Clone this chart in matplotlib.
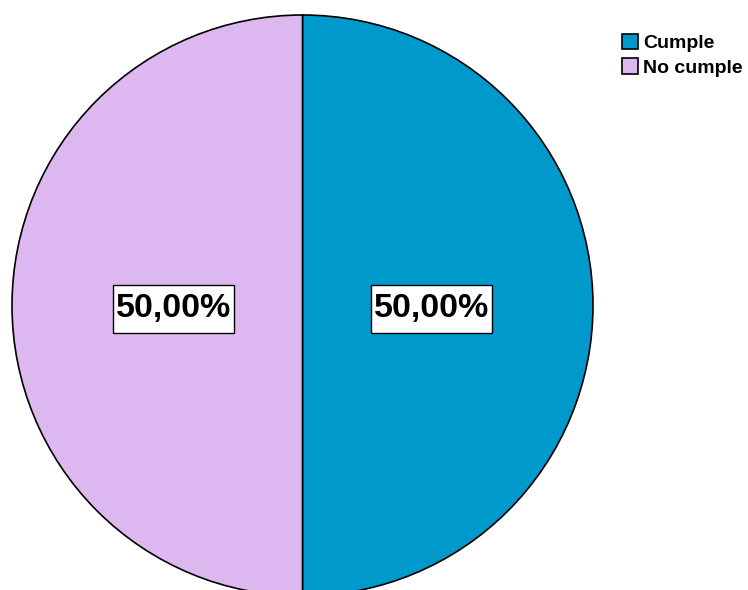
import matplotlib.pyplot as plt
from matplotlib.path import Path

categories = ["Cumple", "No cumple"]
values = [50.0, 50.0]
colors = ["#0099CC", "#DDB8F0"]

plt.rcParams["font.family"] = ["Liberation Sans", "DejaVu Sans"]


def label_box(x0, y0, width, height, mutation_size):
    # rectangular frame, tight at the sides and roomier above/below
    px, py = 0.09 * mutation_size, 0.26 * mutation_size
    x0, y0 = x0 - px, y0 - py
    x1, y1 = x0 + width + 2 * px, y0 + height + 2 * py
    return Path([(x0, y0), (x1, y0), (x1, y1), (x0, y1), (x0, y0)], closed=True)


fig = plt.figure(figsize=(7.48, 5.90), dpi=100)
ax = fig.add_axes([12 / 748, -6 / 590, 581 / 748, 581 / 590])

wedges, texts, autotexts = ax.pie(
    values,
    colors=colors,
    startangle=90,
    counterclock=False,
    autopct=lambda p: f"{p:.2f}%".replace(".", ","),
    pctdistance=0.443,
    wedgeprops=dict(edgecolor="black", linewidth=1.2),
)
ax.set_xlim(-1.0, 1.0)
ax.set_ylim(-1.0, 1.0)

for t in autotexts:
    t.set_fontsize(24.5)
    t.set_fontweight("bold")
    t.set_color("black")
    t.set_y(t.get_position()[1] - 0.012)
    t.set_bbox(dict(boxstyle=label_box, facecolor="white", edgecolor="black", linewidth=1))

leg = fig.legend(
    wedges, categories,
    loc="upper left",
    bbox_to_anchor=(614 / 748, 1 - 26 / 590),
    frameon=False,
    handlelength=0.85,
    handleheight=0.85,
    handletextpad=0.25,
    labelspacing=0.3,
    borderaxespad=0,
    prop=dict(size=14, weight="bold"),
)

fig.savefig("out.png", dpi=100)
